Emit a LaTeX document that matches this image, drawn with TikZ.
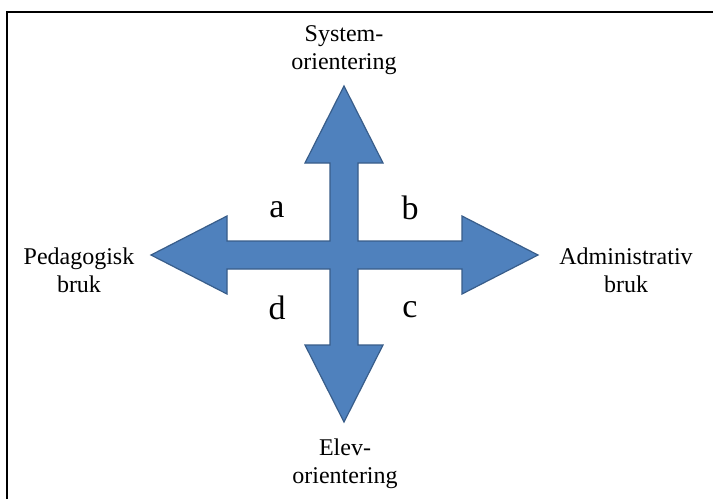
\documentclass[tikz,border=0pt]{standalone}
\usepackage{fontspec}
\setmainfont{Liberation Serif}
\usepackage{tikz}

\begin{document}
\begin{tikzpicture}[x=0.5pt,y=-0.5pt,
  arrow shape/.style={
    fill={rgb,255:red,79;green,129;blue,189},
    draw={rgb,255:red,56;green,93;blue,138},
    line width=0.6pt, line join=miter,
  },
  axis label/.style={align=center, font=\fontsize{12}{14}\selectfont, inner sep=0pt},
  quadrant/.style={font=\fontsize{17}{20}\selectfont, inner sep=0pt},
  ]
  \useasboundingbox (0,0) rectangle (713,499);
  \fill[white] (0,0) rectangle (713,499);
  \draw[line width=1pt] (7,499) |- (713,12);
  \coordinate (C) at (344,255);
  \coordinate (N) at (344,86);
  \coordinate (S) at (344,422);
  \coordinate (W) at (151,255);
  \coordinate (E) at (538,255);
  % the four arrows as one shape
  \draw[arrow shape] (N) -- (383,163) -- (358,163) -- (358,241) -- (462,241)
    -- (462,216) -- (E) -- (462,294) -- (462,269) -- (358,269) -- (358,345)
    -- (383,345) -- (S) -- (305,345) -- (330,345) -- (330,269) -- (227,269)
    -- (227,294) -- (W) -- (227,216) -- (227,241) -- (330,241) -- (330,163)
    -- (305,163) -- cycle;
  \node[axis label] (sys) at (344,50) {System-\\orientering};
  \node[axis label] (elev) at (345,464) {Elev-\\orientering};
  \node[axis label] (ped) at (79,270) {Pedagogisk\\bruk};
  \node[axis label] (adm) at (626,270) {Administrativ\\bruk};
  \node[quadrant] (a) at (277,210) {a};
  \node[quadrant] (b) at (410,208) {b};
  \node[quadrant] (c) at (410,310) {c};
  \node[quadrant] (d) at (277,308) {d};
\end{tikzpicture}
\end{document}
